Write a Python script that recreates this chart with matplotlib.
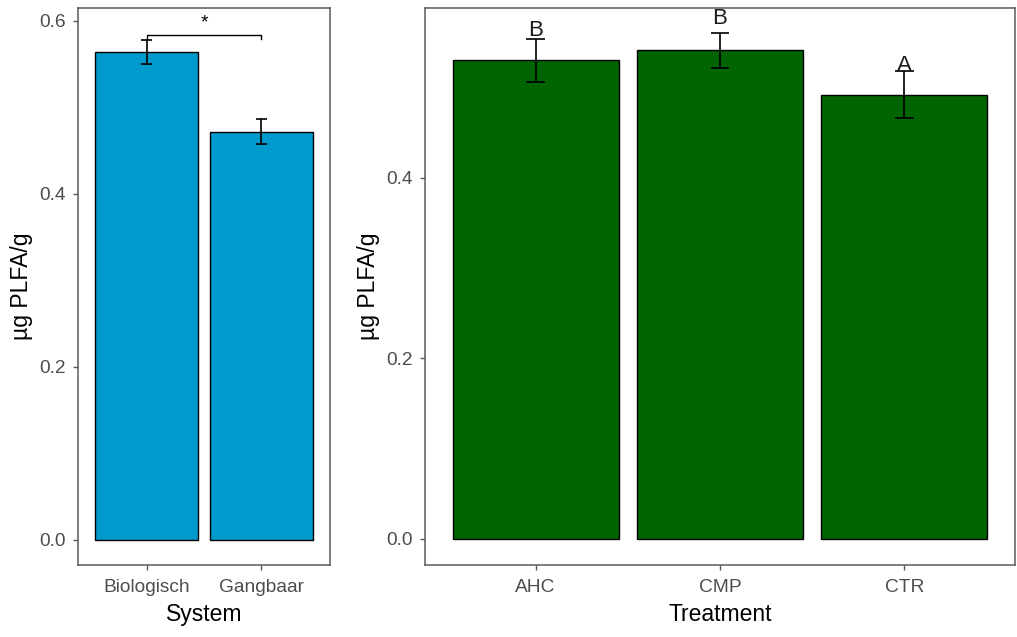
import matplotlib.pyplot as plt

plt.rcParams['font.family'] = ['Liberation Sans', 'DejaVu Sans']

# left panel: system
systems = ["Biologisch", "Gangbaar"]
sys_mean = [0.564, 0.472]
sys_se = [0.0135, 0.0145]
sig_y = 0.5837
sig_label = "*"

# right panel: treatment
treatments = ["AHC", "CMP", "CTR"]
trt_mean = [0.530, 0.541, 0.492]
trt_se = [0.0237, 0.019, 0.0264]
trt_letters = ["B", "B", "A"]
letter_y = [0.557, 0.570, 0.518]

tick_col = "#4D4D4D"
spine_col = "#5a5a5a"

fig = plt.figure(figsize=(10.17, 6.37), dpi=100)
ax1 = fig.add_axes([78 / 1017, 72 / 637, 252 / 1017, 557 / 637])
ax2 = fig.add_axes([425 / 1017, 72 / 637, 590 / 1017, 557 / 637])


def style(ax):
    for s in ax.spines.values():
        s.set_color(spine_col)
        s.set_linewidth(1.1)
    ax.tick_params(direction='out', length=3.5, width=1.0, color=spine_col,
                   labelcolor=tick_col, labelsize=13.8)
    ax.tick_params(axis='x', pad=6.5)
    ax.tick_params(axis='y', pad=5.5)
    ax.set_ylabel("µg PLFA/g", fontsize=16.5, labelpad=4)


# --- left
x1 = list(range(1, len(systems) + 1))
ax1.bar(x1, sys_mean, width=0.9, color="#009ACD", edgecolor="black", linewidth=1.0, zorder=2)
lo = [m - s for m, s in zip(sys_mean, sys_se)]
hi = [m + s for m, s in zip(sys_mean, sys_se)]
ax1.vlines(x1, lo, hi, color="black", lw=1.2, zorder=3)
ax1.hlines(lo, [x - 0.05 for x in x1], [x + 0.05 for x in x1], color="black", lw=1.2, zorder=3)
ax1.hlines(hi, [x - 0.05 for x in x1], [x + 0.05 for x in x1], color="black", lw=1.2, zorder=3)
ax1.plot([x1[0], x1[0], x1[1], x1[1]], [sig_y - 0.004, sig_y, sig_y, sig_y - 0.004],
         color="black", lw=1.0, zorder=3)
ax1.text((x1[0] + x1[1]) / 2, 0.592, sig_label, ha='center', va='baseline', fontsize=14)
ax1.set_xticks(x1)
ax1.set_xticklabels(systems)
ax1.set_xlim(0.4, 2.6)
ax1.set_ylim(-0.029, 0.615)
ax1.set_yticks([0.0, 0.2, 0.4, 0.6])
ax1.set_yticklabels(["0.0", "0.2", "0.4", "0.6"])
ax1.set_xlabel("System", fontsize=16.5, labelpad=5)
style(ax1)

# --- right
x2 = list(range(1, len(treatments) + 1))
ax2.bar(x2, trt_mean, width=0.9, color="#006400", edgecolor="black", linewidth=1.0, zorder=2)
lo = [m - s for m, s in zip(trt_mean, trt_se)]
hi = [m + s for m, s in zip(trt_mean, trt_se)]
ax2.vlines(x2, lo, hi, color="black", lw=1.2, zorder=3)
ax2.hlines(lo, [x - 0.05 for x in x2], [x + 0.05 for x in x2], color="black", lw=1.2, zorder=3)
ax2.hlines(hi, [x - 0.05 for x in x2], [x + 0.05 for x in x2], color="black", lw=1.2, zorder=3)
for x, lab, y in zip(x2, trt_letters, letter_y):
    ax2.text(x, y, lab, ha='center', va='baseline', fontsize=16, color="#1a1a1a")
ax2.set_xticks(x2)
ax2.set_xticklabels(treatments)
ax2.set_xlim(0.4, 3.6)
ax2.set_ylim(-0.029, 0.588)
ax2.set_yticks([0.0, 0.2, 0.4])
ax2.set_yticklabels(["0.0", "0.2", "0.4"])
ax2.set_xlabel("Treatment", fontsize=16.5, labelpad=5)
style(ax2)

fig.savefig("out.png", dpi=100)
